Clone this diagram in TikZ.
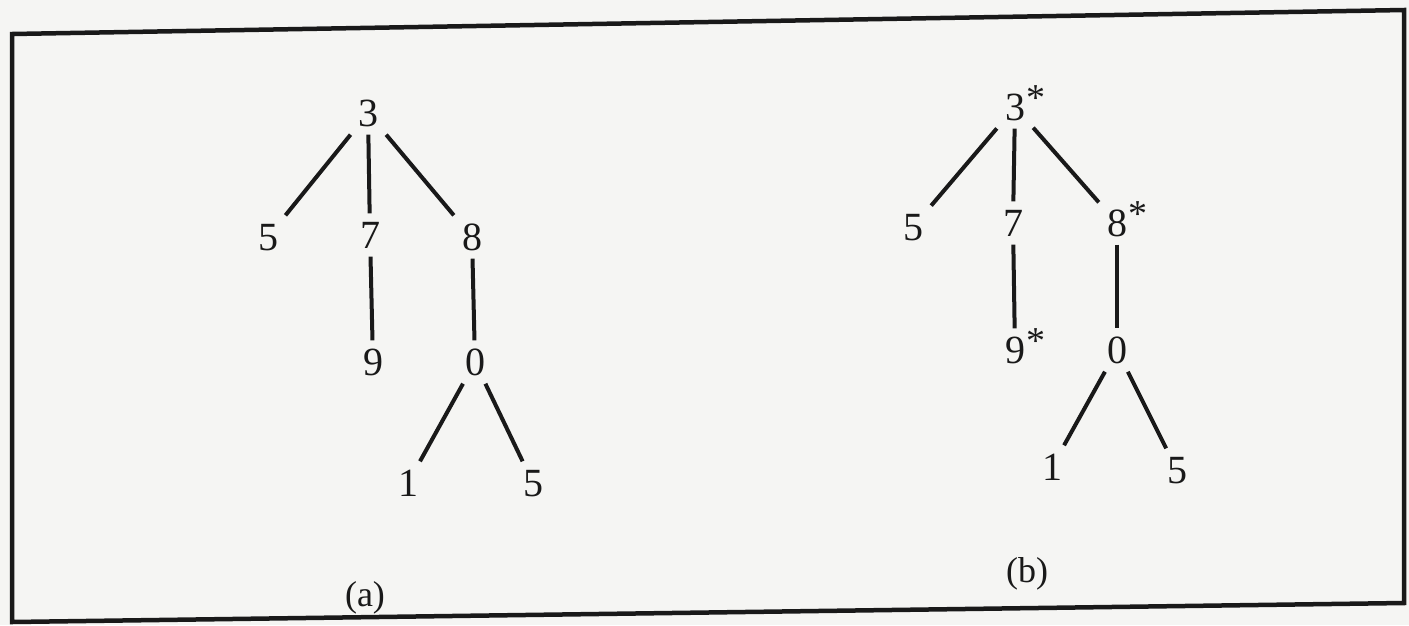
\documentclass[tikz,border=0pt]{standalone}
\usepackage{fontspec}
\setmainfont{Liberation Serif}
\definecolor{paper}{RGB}{245,245,243}
\definecolor{ink}{RGB}{25,25,25}
\newcommand{\starmark}{\rlap{\hspace{1pt}\raisebox{10pt}{\fontsize{38}{38}\selectfont *}}}
\begin{document}
\begin{tikzpicture}[x=1pt,y=-1pt,
  vtx/.style={inner sep=8pt, text height=27pt, text depth=0pt, text width=20pt, align=center,
     font=\fontsize{40}{40}\selectfont, text=ink},
  link/.style={line width=4pt, draw=ink},
  captext/.style={font=\fontsize{36}{36}\selectfont, text=ink},
  frameline/.style={line width=4.5pt, draw=ink, line join=miter}]
\useasboundingbox[fill=paper] (0,0) rectangle (1409,625);
\coordinate (f1) at (12,34);
\coordinate (f2) at (1404,10);
\coordinate (f3) at (1404,603);
\coordinate (f4) at (12,622);
\draw[frameline] (f1) -- (f2) -- (f3) -- (f4) -- cycle;
% tree (a)
\node[vtx] (a3) at (368,113) {3};
\node[vtx] (a5) at (268,237) {5};
\node[vtx] (a7) at (370,235) {7};
\node[vtx] (a8) at (472,237) {8};
\node[vtx] (a9) at (373,362) {9};
\node[vtx] (a0) at (475,362) {0};
\node[vtx] (a1) at (408,483) {1};
\node[vtx] (a5b) at (533,483) {5};
\draw[link] (a3) -- (a5);
\draw[link] (a3) -- (a7);
\draw[link] (a3) -- (a8);
\draw[link] (a7) -- (a9);
\draw[link] (a8) -- (a0);
\draw[link] (a0) -- (a1);
\draw[link] (a0) -- (a5b);
\node[captext] (capa) at (365,598) {(a)};
% tree (b)
\node[vtx] (b3) at (1015,107) {3\starmark};
\node[vtx] (b5) at (913,227) {5};
\node[vtx] (b7) at (1013,223) {7};
\node[vtx] (b8) at (1117,223) {8\starmark};
\node[vtx] (b9) at (1015,350) {9\starmark};
\node[vtx] (b0) at (1117,350) {0};
\node[vtx] (b1) at (1052,467) {1};
\node[vtx] (b5b) at (1177,470) {5};
\draw[link] (b3) -- (b5);
\draw[link] (b3) -- (b7);
\draw[link] (b3) -- (b8);
\draw[link] (b7) -- (b9);
\draw[link] (b8) -- (b0);
\draw[link] (b0) -- (b1);
\draw[link] (b0) -- (b5b);
\node[captext] (capb) at (1027,574) {(b)};
\end{tikzpicture}
\end{document}
